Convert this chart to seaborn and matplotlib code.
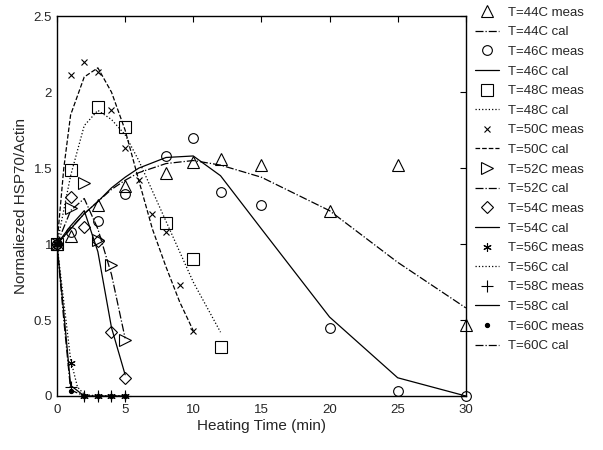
import numpy as np
import matplotlib
matplotlib.use('Agg')
import matplotlib.pyplot as plt
import seaborn as sns

# measured points (time in min, normalized HSP70/Actin)
t44 = [0, 1, 3, 5, 8, 10, 12, 15, 20, 25, 30]
m44 = [1.0, 1.05, 1.26, 1.38, 1.47, 1.54, 1.56, 1.52, 1.22, 1.52, 0.47]
t46 = [0, 1, 3, 5, 8, 10, 12, 15, 20, 25, 30]
m46 = [1.0, 1.08, 1.15, 1.33, 1.58, 1.70, 1.34, 1.26, 0.45, 0.03, 0.0]
t48 = [0, 1, 3, 5, 8, 10, 12]
m48 = [1.0, 1.49, 1.90, 1.77, 1.14, 0.90, 0.32]
t50 = [0, 1, 2, 3, 4, 5, 6, 7, 8, 9, 10]
m50 = [1.0, 2.11, 2.20, 2.13, 1.88, 1.63, 1.42, 1.20, 1.08, 0.73, 0.43]
t52 = [0, 1, 2, 3, 4, 5]
m52 = [1.0, 1.24, 1.40, 1.03, 0.86, 0.37]
t54 = [0, 1, 2, 3, 4, 5]
m54 = [1.0, 1.31, 1.11, 1.02, 0.42, 0.12]
t56 = [0, 1, 2, 3, 4, 5]
m56 = [1.0, 0.22, 0.0, 0.0, 0.0, 0.0]
t58 = [0, 1, 2, 3, 4, 5]
m58 = [1.0, 0.06, 0.0, 0.0, 0.0, 0.0]
t60 = [0, 1, 2, 3, 4, 5]
m60 = [1.0, 0.03, 0.0, 0.0, 0.0, 0.0]

# calculated curves
ct44 = [0, 1, 2, 3, 4, 5, 6, 8, 10, 12, 15, 20, 25, 30]
c44 = [1.0, 1.1, 1.2, 1.28, 1.36, 1.42, 1.47, 1.53, 1.55, 1.52, 1.44, 1.22, 0.88, 0.58]
ct46 = [0, 1, 2, 3, 4, 5, 6, 8, 10, 12, 15, 20, 25, 30]
c46 = [1.0, 1.1, 1.2, 1.28, 1.37, 1.44, 1.5, 1.57, 1.58, 1.45, 1.1, 0.52, 0.12, 0.0]
ct48 = [0, 1, 2, 3, 4, 5, 6, 8, 10, 12]
c48 = [1.0, 1.45, 1.78, 1.88, 1.82, 1.72, 1.55, 1.15, 0.75, 0.42]
ct50 = [0, 0.5, 1, 2, 3, 4, 5, 6, 7, 8, 9, 10]
c50 = [1.0, 1.5, 1.85, 2.1, 2.16, 2.0, 1.75, 1.42, 1.1, 0.85, 0.62, 0.43]
ct52 = [0, 1, 2, 3, 4, 5]
c52 = [1.0, 1.22, 1.3, 1.1, 0.8, 0.38]
ct54 = [0, 1, 2, 3, 4, 5]
c54 = [1.0, 1.12, 1.22, 0.95, 0.45, 0.14]
ct56 = [0, 0.5, 1, 1.5, 2, 3, 4, 5]
c56 = [1.0, 0.62, 0.24, 0.06, 0.01, 0.0, 0.0, 0.0]
ct58 = [0, 0.5, 1, 2, 3, 4, 5]
c58 = [1.0, 0.55, 0.07, 0.0, 0.0, 0.0, 0.0]
ct60 = [0, 0.5, 1, 2, 3, 4, 5]
c60 = [1.0, 0.5, 0.04, 0.0, 0.0, 0.0, 0.0]

temps = ['44', '46', '48', '50', '52', '54', '56', '58', '60']
meas_t = [t44, t46, t48, t50, t52, t54, t56, t58, t60]
meas_v = [m44, m46, m48, m50, m52, m54, m56, m58, m60]
cal_t = [ct44, ct46, ct48, ct50, ct52, ct54, ct56, ct58, ct60]
cal_v = [c44, c46, c48, c50, c52, c54, c56, c58, c60]
markers = ['^', 'o', 's', 'x', '>', 'D', (6, 2, 0), '+', '.']
msizes = [8, 7, 8, 5, 8, 6, 6, 8, 6]
styles = ['-.', '-', ':', '--', '-.', '-', ':', '-', '-.']

sns.set_style('white')
plt.rcParams['font.family'] = ['Liberation Sans', 'DejaVu Sans']

fig = plt.figure(figsize=(6.03, 4.5), dpi=100)
ax = fig.add_axes([0.0945, 0.12, 0.678, 0.844])

for i, T in enumerate(temps):
    filled = markers[i] == '.'
    sns.lineplot(x=meas_t[i], y=meas_v[i], ax=ax, linestyle='none', marker=markers[i],
                 markersize=msizes[i], markerfacecolor='black' if filled else 'none',
                 markeredgecolor='black', markeredgewidth=0.8, color='black',
                 label=f'T={T}C meas', sort=False, clip_on=False, zorder=3)
    sns.lineplot(x=cal_t[i], y=cal_v[i], ax=ax, linestyle=styles[i], linewidth=0.9,
                 color='black', label=f'T={T}C cal', sort=False)

ax.set_xlim(0, 30)
ax.set_ylim(0, 2.5)
ax.set_xticks([0, 5, 10, 15, 20, 25, 30])
ax.set_yticks([0, 0.5, 1, 1.5, 2, 2.5])
ax.set_yticklabels(['0', '0.5', '1', '1.5', '2', '2.5'])
ax.tick_params(direction='in', top=True, right=True, length=4, labelsize=9.5, color='black')
ax.tick_params(axis='x', pad=6)
for s in ax.spines.values():
    s.set_color('black')
    s.set_linewidth(1.0)
ax.set_xlabel('Heating Time (min)', fontsize=11, labelpad=2)
ax.set_ylabel('Normaliezed HSP70/Actin', fontsize=11)

ax.legend(loc='upper left', bbox_to_anchor=(1.0, 1.05), frameon=False, fontsize=9.5,
          handlelength=1.8, labelspacing=0.56, handletextpad=0.7, borderaxespad=0.3)

plt.savefig('out.png', dpi=100)
